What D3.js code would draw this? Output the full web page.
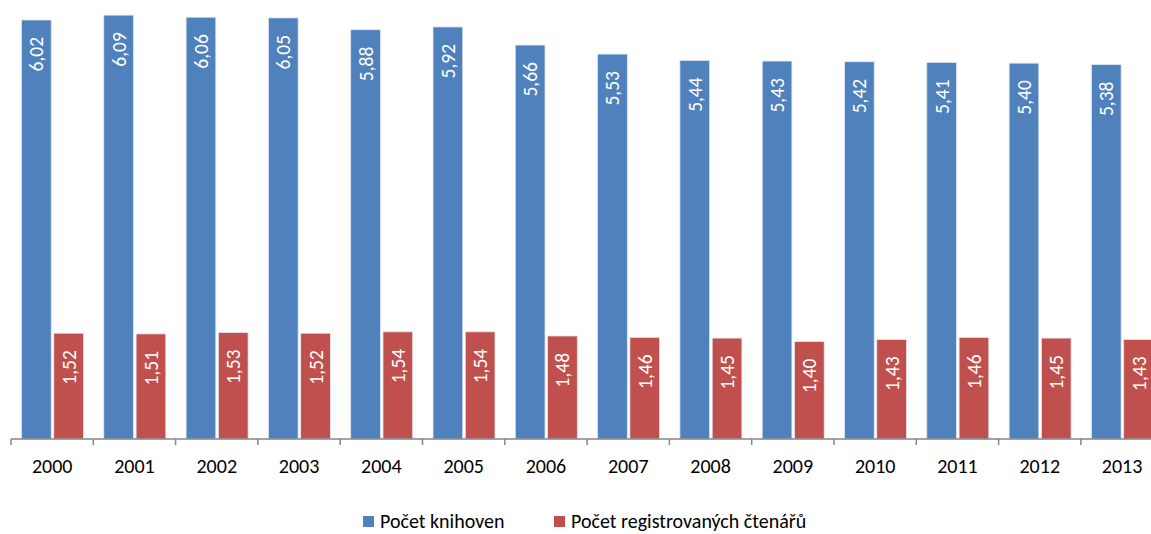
<!DOCTYPE html>
<html>
<head>
<meta charset="utf-8">
<script src="https://cdn.jsdelivr.net/npm/d3@7"></script>
<style>
body { margin: 0; background: #fff; }
text { font-family: Carlito, Calibri, Lato, sans-serif; }
</style>
</head>
<body>
<div class="container"></div>
<script>
const wd = 1151
const ht = 534

// data
const years = ["2000","2001","2002","2003","2004","2005","2006","2007","2008","2009","2010","2011","2012","2013"]
const knihovny = [6.02,6.09,6.06,6.05,5.88,5.92,5.66,5.53,5.44,5.43,5.42,5.41,5.40,5.38]
const ctenari = [1.52,1.51,1.53,1.52,1.54,1.54,1.48,1.46,1.45,1.40,1.43,1.46,1.45,1.43]
const seriesNames = ["Počet knihoven", "Počet registrovaných čtenářů"]
const colors = ["#4F81BD", "#C0504D"]

const svgC = d3.select(".container")
.append("svg")
.attr("width", wd)
.attr("height", ht)

const band = 82.3
const x0 = 11
const axisY = 439

const x = d3.scaleBand()
.domain(years)
.range([x0, x0 + band*years.length])
.padding(0)

const x1 = d3.scaleBand()
.domain([0, 1])
.range([10.5, 72.5])
.paddingInner(0.08)

const y = d3.scaleLinear()
.domain([0, 6.3])
.range([axisY, 0.5])

const rows = years.map((yr, i) => ({year: yr, vals: [knihovny[i], ctenari[i]]}))

const groups = svgC.selectAll("g.grp")
.data(rows)
.enter()
.append("g")
.attr("class", "grp")
.attr("transform", d => "translate(" + x(d.year) + ",0)")

groups.selectAll("rect")
.data(d => d.vals.map((v, k) => ({v: v, k: k})))
.enter()
.append("rect")
.attr("x", d => x1(d.k))
.attr("width", x1.bandwidth())
.attr("y", d => y(d.v))
.attr("height", d => axisY - y(d.v))
.attr("fill", d => colors[d.k])
.attr("stroke", "#dfe6f0")
.attr("stroke-width", 0.8)

// value labels, rotated, inside the top of bar
groups.selectAll("text.val")
.data(d => d.vals.map((v, k) => ({v: v, k: k})))
.enter()
.append("text")
.attr("class", "val")
.attr("transform", d => "translate(" + (x1(d.k) + x1.bandwidth()/2 + 7) + "," + (y(d.v) + 17) + ") rotate(-90)")
.attr("text-anchor", "end")
.attr("fill", "#fff")
.style("font-size", "19.5px")
.text(d => d3.format(".2f")(d.v).replace(".", ","))

// axis
const axis = svgC.append("g")
axis.append("line")
.attr("x1", x0).attr("x2", wd)
.attr("y1", axisY).attr("y2", axisY)
.attr("stroke", "#868686")
.attr("stroke-width", 1.5)

axis.selectAll("line.tick")
.data(years.concat(["end"]))
.enter()
.append("line")
.attr("class", "tick")
.attr("x1", (d, i) => x0 + i*band)
.attr("x2", (d, i) => x0 + i*band)
.attr("y1", axisY)
.attr("y2", axisY + 6)
.attr("stroke", "#868686")
.attr("stroke-width", 1.5)

axis.selectAll("text")
.data(years)
.enter()
.append("text")
.attr("x", d => x(d) + band/2)
.attr("y", 473)
.attr("text-anchor", "middle")
.attr("fill", "#000")
.style("font-size", "20px")
.text(d => d)

// legend
const legX = [363, 554]
const leg = svgC.selectAll("g.leg")
.data(seriesNames)
.enter()
.append("g")
.attr("class", "leg")
.attr("transform", (d, i) => "translate(" + legX[i] + ",516)")

leg.append("rect")
.attr("width", 11).attr("height", 11)
.attr("fill", (d, i) => colors[i])

leg.append("text")
.attr("x", 17)
.attr("y", 12)
.attr("fill", "#000")
.style("font-size", "20px")
.text(d => d)
</script>
</body>
</html>
